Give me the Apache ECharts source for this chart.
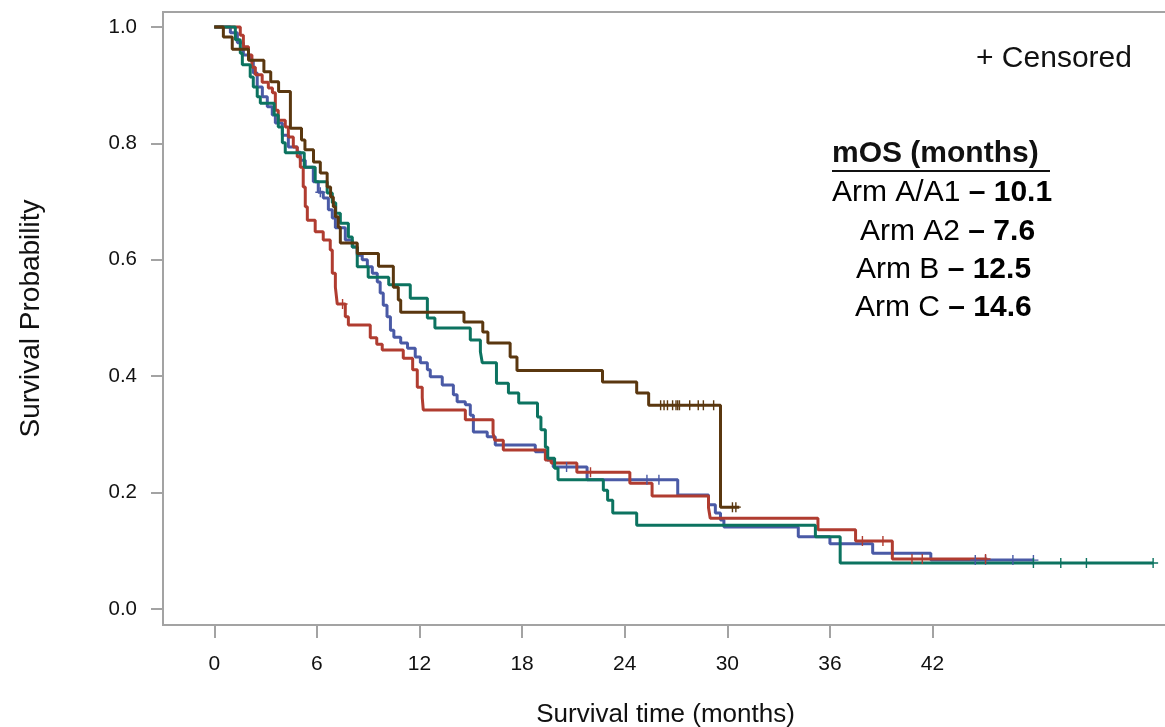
<!DOCTYPE html>
<html>
<head>
<meta charset="utf-8">
<script src="https://cdn.jsdelivr.net/npm/echarts@6/dist/echarts.min.js"></script>
<style>html,body{margin:0;padding:0;background:#fff}#c{width:1165px;height:727px}</style>
</head>
<body>
<div id="c"></div>
<script>
// ---- data (months, survival probability) ----
const xTicks = [0, 6, 12, 18, 24, 30, 36, 42];
const yTicks = [0, 0.2, 0.4, 0.6, 0.8, 1.0];

const armA = [[0,1],[0.94,0.990],[1.35,0.973],[1.7,0.952],[2.1,0.943],[2.28,0.921],[2.51,0.897],[2.81,0.880],[3.1,0.863],[3.39,0.849],[3.57,0.835],[3.98,0.814],[4.33,0.794],[4.85,0.785],[5.03,0.771],[5.32,0.759],[5.79,0.734],[6.08,0.716],[6.37,0.706],[6.67,0.686],[6.9,0.672],[7.08,0.655],[7.66,0.634],[8.07,0.622],[8.36,0.608],[8.65,0.600],[8.95,0.588],[9.24,0.577],[9.53,0.562],[9.7,0.543],[9.88,0.522],[10.1,0.502],[10.3,0.479],[10.5,0.467],[10.9,0.457],[11.3,0.448],[11.75,0.433],[12.05,0.423],[12.46,0.411],[12.63,0.399],[13.33,0.385],[13.98,0.368],[14.2,0.356],[14.68,0.351],[14.97,0.333],[15.15,0.304],[15.96,0.296],[16.43,0.282],[18.77,0.270],[19.47,0.256],[19.82,0.244],[21.8,0.222],[27.1,0.196],[28.9,0.179],[29.3,0.165],[29.6,0.153],[29.8,0.141],[34.15,0.124],[36.0,0.112],[38.5,0.096],[41.9,0.084],[47.9,0.084]];
const armACens = [[6.2,0.716],[20.6,0.244],[25.3,0.222],[26.0,0.222],[44.5,0.084],[45.1,0.084],[46.7,0.084],[47.9,0.084]];

const armA2 = [[0,1],[1.52,0.986],[1.7,0.966],[2.0,0.952],[2.2,0.931],[2.4,0.918],[2.8,0.905],[3.16,0.895],[3.4,0.887],[3.57,0.857],[3.74,0.840],[4.15,0.828],[4.33,0.811],[4.62,0.794],[4.85,0.777],[5.03,0.759],[5.2,0.725],[5.32,0.691],[5.44,0.668],[5.9,0.648],[6.37,0.634],[6.78,0.617],[6.9,0.577],[7.08,0.553],[7.19,0.524],[7.66,0.502],[7.84,0.488],[9.12,0.466],[9.5,0.455],[9.82,0.445],[11.05,0.431],[11.6,0.411],[11.87,0.381],[12.16,0.363],[12.22,0.342],[14.68,0.325],[16.3,0.302],[16.4,0.290],[16.9,0.273],[19.36,0.256],[19.7,0.251],[21.2,0.235],[24.3,0.216],[25.6,0.194],[28.9,0.174],[29.0,0.156],[35.3,0.136],[37.5,0.117],[39.65,0.086],[45.2,0.086]];
const armA2Cens = [[7.5,0.524],[22.0,0.235],[37.9,0.117],[39.1,0.117],[40.8,0.086],[41.4,0.086],[45.1,0.086]];

const armB = [[0,1],[1.23,0.978],[1.52,0.955],[1.64,0.935],[2.1,0.914],[2.28,0.897],[2.51,0.880],[2.69,0.869],[3.5,0.849],[3.74,0.828],[3.98,0.801],[4.15,0.784],[5.26,0.759],[5.9,0.734],[6.6,0.715],[6.9,0.698],[7.1,0.680],[7.37,0.663],[7.84,0.639],[8.07,0.622],[8.36,0.588],[9.0,0.570],[10.2,0.557],[11.46,0.534],[12.46,0.500],[12.9,0.483],[14.97,0.462],[15.56,0.442],[15.67,0.423],[16.5,0.388],[17.2,0.371],[17.8,0.354],[18.9,0.330],[19.1,0.308],[19.36,0.278],[19.5,0.259],[19.9,0.242],[20.1,0.222],[22.75,0.204],[23.0,0.187],[23.3,0.165],[24.7,0.144],[35.15,0.124],[36.6,0.079],[54.9,0.079]];
const armBCens = [[47.9,0.079],[49.5,0.079],[51.0,0.079],[54.9,0.079]];

const armC = [[0,1],[0.53,0.983],[1.05,0.962],[2.0,0.943],[2.9,0.923],[3.3,0.906],[3.76,0.889],[4.45,0.826],[5.1,0.806],[5.3,0.789],[5.8,0.768],[6.2,0.749],[6.6,0.725],[6.8,0.708],[6.96,0.691],[7.08,0.674],[7.25,0.656],[7.37,0.629],[8.36,0.611],[9.6,0.589],[10.47,0.553],[10.76,0.531],[10.9,0.510],[14.6,0.493],[15.7,0.476],[16.0,0.457],[17.3,0.433],[17.7,0.410],[22.7,0.390],[24.7,0.371],[25.4,0.350],[29.6,0.175],[30.7,0.175]];
const armCCens = [[26.1,0.35],[26.3,0.35],[26.5,0.35],[26.8,0.35],[27.0,0.35],[27.1,0.35],[27.2,0.35],[27.8,0.35],[28.3,0.35],[28.6,0.35],[29.2,0.35],[30.3,0.175],[30.5,0.175]];

const armNames = ['Arm A/A1', 'Arm A2', 'Arm B', 'Arm C'];
const medians = ['10.1', '7.6', '12.5', '14.6'];

// ---- chart ----
const lineColors = ['#4a5aa6', '#b03c30', '#0c7360', '#5a370f'];
const textColors = ['#3e5f8f', '#d3141c', '#1b6c7c', '#7a4828'];
const FONT = '"Liberation Sans", Arial, sans-serif';
const plus = 'path://M0,5L10,5M5,0L5,10';

const curves = [armA, armA2, armB, armC];
const cens = [armACens, armA2Cens, armBCens, armCCens];

const series = [];
curves.forEach((d, i) => {
  series.push({
    name: armNames[i], type: 'line', step: 'end', data: d,
    showSymbol: false, symbol: 'none', z: 2 + i,
    lineStyle: { color: lineColors[i], width: 3 }, animation: false
  });
});
cens.forEach((d, i) => {
  series.push({
    name: armNames[i] + ' censored', type: 'scatter', data: d,
    symbol: plus, symbolSize: 10, z: 10 + i,
    itemStyle: { color: lineColors[i], borderColor: lineColors[i], borderWidth: 1.4, opacity: 1 },
    animation: false
  });
});

const axisGray = '#a3a3a3';
const chart = echarts.init(document.getElementById('c'));
const legendX = [832, 860, 856, 855];
const legendY = [193, 232, 270, 308];

const graphics = [
  { type: 'text', style: { x: 976, y: 59, text: '+ Censored', font: '30px ' + FONT, fill: '#111', verticalAlign: 'middle' } },
  { type: 'text', style: { x: 832, y: 154, text: 'mOS (months)', font: 'bold 30px ' + FONT, fill: '#111', verticalAlign: 'middle' } },
  { type: 'line', shape: { x1: 832, y1: 171, x2: 1050, y2: 171 }, style: { stroke: '#111', lineWidth: 2 } }
];
armNames.forEach((n, i) => {
  graphics.push({
    type: 'text',
    style: {
      x: legendX[i], y: legendY[i],
      text: '{n|' + n + '}{m|\u00a0– ' + medians[i] + '}',
      verticalAlign: 'middle',
      rich: {
        n: { fontFamily: FONT, fontSize: 30, color: textColors[i] },
        m: { fontFamily: FONT, fontSize: 30, fontWeight: 'bold', color: '#111' }
      }
    }
  });
});

chart.setOption({
  animation: false,
  backgroundColor: '#fff',
  grid: { left: 163, right: -3, top: 12, bottom: 102, show: true, borderColor: axisGray, borderWidth: 2, containLabel: false, outerBoundsMode: 'none' },
  xAxis: {
    type: 'value', min: -3, max: 55.77,
    name: 'Survival time (months)', nameLocation: 'middle', nameGap: 77,
    nameTextStyle: { fontFamily: FONT, fontSize: 26, color: '#111' },
    axisLine: { show: true, onZero: false, lineStyle: { color: axisGray, width: 2 } },
    axisTick: { show: true, length: 13, customValues: xTicks, lineStyle: { color: axisGray, width: 2 } },
    axisLabel: { customValues: xTicks, margin: 29, fontFamily: FONT, fontSize: 21, color: '#111' },
    splitLine: { show: false }
  },
  yAxis: {
    type: 'value', min: -0.0275, max: 1.0258,
    name: 'Survival Probability', nameLocation: 'middle', nameGap: 118, nameRotate: 90,
    nameTextStyle: { fontFamily: FONT, fontSize: 28, color: '#111' },
    axisLine: { show: true, onZero: false, lineStyle: { color: axisGray, width: 2 } },
    axisTick: { show: true, length: 12, customValues: yTicks, lineStyle: { color: axisGray, width: 2 } },
    axisLabel: { customValues: yTicks, margin: 26, fontFamily: FONT, fontSize: 20.5, color: '#111', formatter: v => v.toFixed(1) },
    splitLine: { show: false }
  },
  series: series,
  graphic: graphics
});
</script>
</body>
</html>
